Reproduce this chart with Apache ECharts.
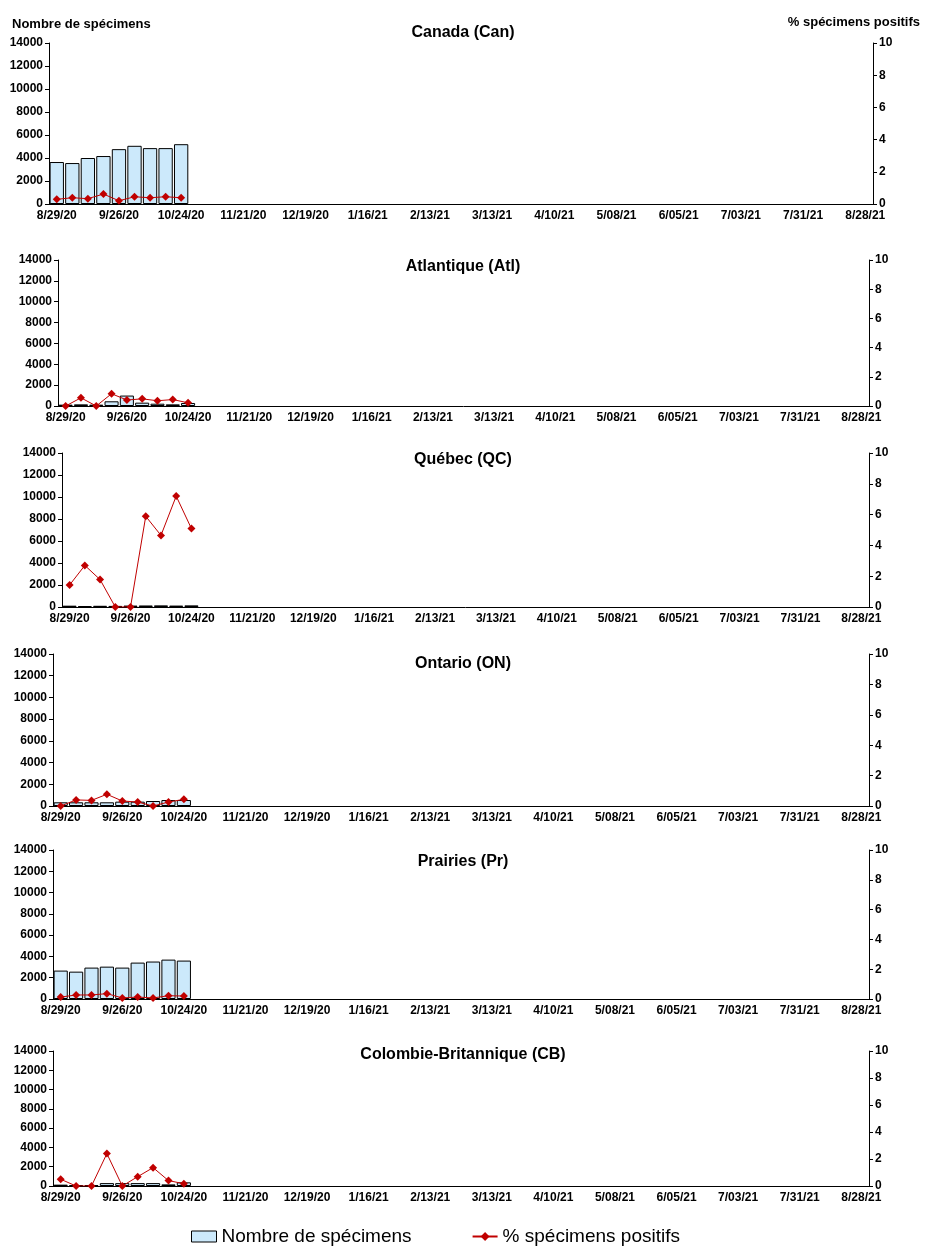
<!DOCTYPE html>
<html>
<head>
<meta charset="utf-8">
<script src="https://cdn.jsdelivr.net/npm/echarts@6/dist/echarts.min.js"></script>
<style>
  body { margin: 0; background: #fff; }
  #main { width: 926px; height: 1257px; }
</style>
</head>
<body>
<div id="main"></div>
<script>
// semaines (fin de semaine)
var weeks = ['8/29/20', '9/05/20', '9/12/20', '9/19/20', '9/26/20', '10/03/20', '10/10/20', '10/17/20',
    '10/24/20', '10/31/20', '11/07/20', '11/14/20', '11/21/20', '11/28/20', '12/05/20', '12/12/20',
    '12/19/20', '12/26/20', '1/02/21', '1/09/21', '1/16/21', '1/23/21', '1/30/21', '2/06/21',
    '2/13/21', '2/20/21', '2/27/21', '3/06/21', '3/13/21', '3/20/21', '3/27/21', '4/03/21',
    '4/10/21', '4/17/21', '4/24/21', '5/01/21', '5/08/21', '5/15/21', '5/22/21', '5/29/21',
    '6/05/21', '6/12/21', '6/19/21', '6/26/21', '7/03/21', '7/10/21', '7/17/21', '7/24/21',
    '7/31/21', '8/07/21', '8/14/21', '8/21/21', '8/28/21'];

var regionNames = ['Canada (Can)', 'Atlantique (Atl)', 'Québec (QC)', 'Ontario (ON)', 'Prairies (Pr)', 'Colombie-Britannique (CB)'];

// nombre de spécimens
var specCan = [3650, 3560, 4000, 4170, 4770, 5060, 4860, 4860, 5200];
var specAtl = [130, 160, 130, 450, 1000, 320, 220, 160, 290];
var specQC = [120, 90, 110, 100, 130, 140, 150, 130, 150];
var specON = [340, 340, 340, 340, 400, 400, 460, 550, 550];
var specPr = [2670, 2570, 2950, 3040, 2950, 3420, 3520, 3700, 3610];
var specCB = [140, 100, 100, 300, 300, 300, 300, 170, 380];

// % spécimens positifs
var pctCan = [0.29, 0.39, 0.33, 0.62, 0.2, 0.45, 0.39, 0.45, 0.39];
var pctAtl = [0, 0.56, 0, 0.84, 0.41, 0.49, 0.36, 0.44, 0.22];
var pctQC = [1.43, 2.7, 1.78, 0, 0, 5.89, 4.65, 7.2, 5.09];
var pctON = [0, 0.4, 0.37, 0.77, 0.33, 0.26, 0, 0.26, 0.44];
var pctPr = [0.13, 0.27, 0.27, 0.36, 0.07, 0.13, 0.07, 0.22, 0.2];
var pctCB = [0.5, 0, 0, 2.4, 0, 0.69, 1.36, 0.4, 0.17];

var specAll = [specCan, specAtl, specQC, specON, specPr, specCB];
var pctAll = [pctCan, pctAtl, pctQC, pctON, pctPr, pctCB];

// position des panneaux (px)
var panels = [
    { left: 49, right: 53, top: 43, height: 161, title: 20 },
    { left: 58, right: 57, top: 260, height: 146, title: 254 },
    { left: 62, right: 57, top: 453, height: 154, title: 447 },
    { left: 53, right: 57, top: 654, height: 152, title: 651 },
    { left: 53, right: 57, top: 850, height: 149, title: 849 },
    { left: 53, right: 57, top: 1051, height: 135, title: 1042 }
];

var font = 'Liberation Sans, Arial, sans-serif';
var barColor = '#cce9fb';
var lineColor = '#c00000';

var chart = echarts.init(document.getElementById('main'));

var grids = [], xAxes = [], yAxes = [], series = [], titles = [];

for (var i = 0; i < panels.length; i++) {
    var p = panels[i];
    grids.push({ left: p.left, right: p.right, top: p.top, height: p.height, containLabel: false });
    titles.push({
        text: regionNames[i],
        left: 'center',
        top: p.title,
        textStyle: { fontFamily: font, fontSize: 16, fontWeight: 'bold', color: '#000' }
    });
    xAxes.push({
        type: 'category',
        gridIndex: i,
        data: weeks,
        boundaryGap: true,
        axisLine: { lineStyle: { color: '#000', width: 1 } },
        axisTick: { interval: 0, length: 4, lineStyle: { color: '#000' } },
        axisLabel: { interval: 3, color: '#000', fontFamily: font, fontSize: 12, fontWeight: 'bold', margin: 6 }
    });
    // axe gauche: nombre
    yAxes.push({
        type: 'value',
        gridIndex: i,
        min: 0,
        max: 14000,
        interval: 2000,
        position: 'left',
        splitLine: { show: false },
        axisLine: { show: true, lineStyle: { color: '#000' } },
        axisTick: { show: true, length: 4, lineStyle: { color: '#000' } },
        axisLabel: {
            color: '#000', fontFamily: font, fontSize: 12, fontWeight: 'bold', margin: 6,
            formatter: function (v) { return String(v); }
        }
    });
    // axe droit: %
    yAxes.push({
        type: 'value',
        gridIndex: i,
        min: 0,
        max: 10,
        interval: 2,
        position: 'right',
        splitLine: { show: false },
        axisLine: { show: true, lineStyle: { color: '#000' } },
        axisTick: { show: true, length: 4, lineStyle: { color: '#000' } },
        axisLabel: { color: '#000', fontFamily: font, fontSize: 12, fontWeight: 'bold', margin: 6 }
    });
    series.push({
        name: 'Nombre de spécimens',
        type: 'bar',
        xAxisIndex: i,
        yAxisIndex: i * 2,
        data: specAll[i],
        barCategoryGap: '8%',
        itemStyle: { color: barColor, borderColor: '#000', borderWidth: 1 }
    });
    series.push({
        name: '% spécimens positifs',
        type: 'line',
        xAxisIndex: i,
        yAxisIndex: i * 2 + 1,
        data: pctAll[i],
        symbol: 'diamond',
        symbolSize: 8,
        lineStyle: { color: lineColor, width: 1 },
        itemStyle: { color: lineColor }
    });
}

option = {
    backgroundColor: '#fff',
    animation: false,
    title: titles,
    grid: grids,
    xAxis: xAxes,
    yAxis: yAxes,
    series: series,
    legend: {
        left: 186,
        top: 1222,
        itemGap: 60,
        itemWidth: 25,
        itemHeight: 11,
        textStyle: { fontFamily: font, fontSize: 19, color: '#000' },
        data: [
            { name: 'Nombre de spécimens', icon: 'rect', itemStyle: { color: barColor, borderColor: '#000', borderWidth: 1 } },
            { name: '% spécimens positifs' }
        ]
    },
    graphic: [
        {
            type: 'text', left: 12, top: 18,
            style: { text: 'Nombre de spécimens', font: 'bold 13px ' + font, fill: '#000' }
        },
        {
            type: 'text', right: 6, top: 16,
            style: { text: '% spécimens positifs', font: 'bold 13px ' + font, fill: '#000' }
        }
    ]
};
chart.setOption(option);
</script>
</body>
</html>
